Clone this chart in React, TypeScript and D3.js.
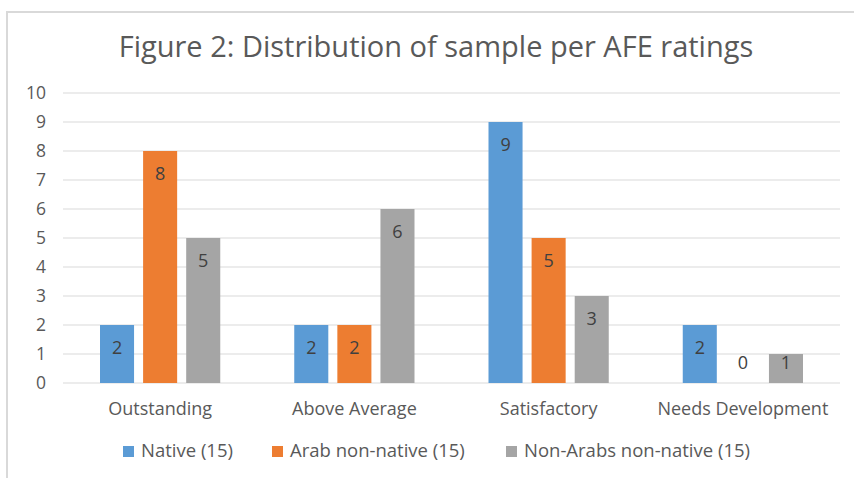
import React, { useRef, useEffect } from 'react';
import * as d3 from 'd3';

var categories = ['Outstanding', 'Above Average', 'Satisfactory', 'Needs Development'];
var seriesNames = ['Native (15)', 'Arab non-native (15)', 'Non-Arabs non-native (15)'];
var nativeValues = [2, 2, 9, 2];
var arabValues = [8, 2, 5, 0];
var nonArabValues = [5, 6, 3, 1];
var yTicks = [0, 1, 2, 3, 4, 5, 6, 7, 8, 9, 10];
var colors = ['#5B9BD5', '#ED7D31', '#A5A5A5'];

var width = 854;
var height = 478;
var font = '"Open Sans", sans-serif';

export default function App() {
  const svgRef = useRef(null);

  useEffect(() => {
    var svg = d3.select(svgRef.current);
    svg.selectAll('*').remove();

    var series = [nativeValues, arabValues, nonArabValues];

    // chart frame
    svg
      .append('rect')
      .attr('x', 7)
      .attr('y', 12)
      .attr('width', 900)
      .attr('height', 500)
      .attr('fill', '#fff')
      .attr('stroke', '#d9d9d9')
      .attr('stroke-width', 2);

    // title
    svg
      .append('text')
      .attr('x', 436)
      .attr('y', 57)
      .attr('text-anchor', 'middle')
      .attr('font-family', font)
      .attr('font-size', 29)
      .attr('fill', '#595959')
      .text('Figure 2: Distribution of sample per AFE ratings');

    var x0 = d3.scaleBand().domain(categories).range([63, 840]);
    var x1 = d3
      .scaleBand()
      .domain(d3.range(series.length).map(String))
      .range([37, x0.bandwidth() - 37])
      .paddingInner(0.21);
    var y = d3.scaleLinear().domain([0, 10]).range([383, 93]);

    // grid
    svg
      .append('g')
      .selectAll('line')
      .data(yTicks)
      .join('line')
      .attr('x1', 63)
      .attr('x2', 840)
      .attr('y1', d => y(d))
      .attr('y2', d => y(d))
      .attr('stroke', '#d9d9d9')
      .attr('stroke-width', 1);

    // y tick labels
    svg
      .append('g')
      .selectAll('text')
      .data(yTicks)
      .join('text')
      .attr('x', 46)
      .attr('y', d => y(d))
      .attr('dy', '0.35em')
      .attr('text-anchor', 'end')
      .attr('font-family', font)
      .attr('font-size', 17.5)
      .attr('fill', '#595959')
      .text(d => d);

    // bars
    series.forEach((vals, si) => {
      var g = svg.append('g');
      g.selectAll('rect')
        .data(vals)
        .join('rect')
        .attr('x', (d, i) => x0(categories[i]) + x1(String(si)))
        .attr('y', d => y(d))
        .attr('width', x1.bandwidth())
        .attr('height', d => y(0) - y(d))
        .attr('fill', colors[si]);
      g.selectAll('text')
        .data(vals)
        .join('text')
        .attr('x', (d, i) => x0(categories[i]) + x1(String(si)) + x1.bandwidth() / 2)
        .attr('y', d => Math.min(y(d) + 23, y(0) - 20))
        .attr('dy', '0.35em')
        .attr('text-anchor', 'middle')
        .attr('font-family', font)
        .attr('font-size', 18)
        .attr('fill', '#404040')
        .text(d => d);
    });

    // category labels
    svg
      .append('g')
      .selectAll('text')
      .data(categories)
      .join('text')
      .attr('x', d => x0(d) + x0.bandwidth() / 2)
      .attr('y', 409)
      .attr('dy', '0.35em')
      .attr('text-anchor', 'middle')
      .attr('font-family', font)
      .attr('font-size', 18)
      .attr('fill', '#595959')
      .text(d => d);

    // legend
    var legendX = [123, 272, 506];
    var legend = svg
      .append('g')
      .selectAll('g')
      .data(seriesNames)
      .join('g')
      .attr('transform', (d, i) => 'translate(' + legendX[i] + ',451)');
    legend
      .append('rect')
      .attr('x', 0)
      .attr('y', -5)
      .attr('width', 11)
      .attr('height', 11)
      .attr('fill', (d, i) => colors[i]);
    legend
      .append('text')
      .attr('x', 18)
      .attr('y', 0)
      .attr('dy', '0.35em')
      .attr('font-family', font)
      .attr('font-size', 18.5)
      .attr('fill', '#595959')
      .text(d => d);
  }, []);

  return (
    <svg
      ref={svgRef}
      width={width}
      height={height}
      style={{ position: 'absolute', left: 0, top: 0, background: '#fff' }}
    />
  );
}
